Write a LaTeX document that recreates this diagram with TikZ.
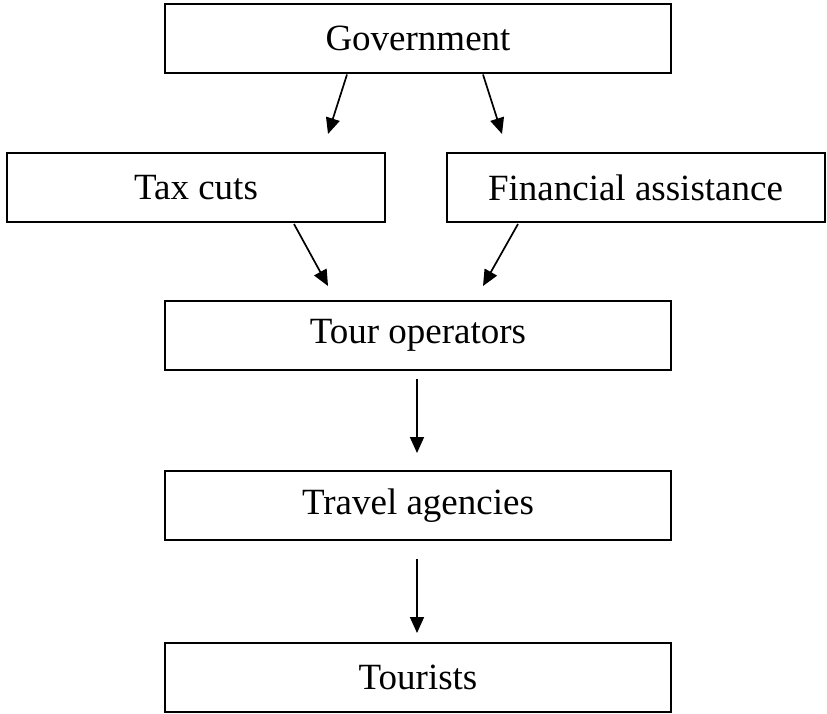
\documentclass[tikz,border=0pt]{standalone}
\usepackage{fontspec}
\setmainfont{Liberation Serif}
\usetikzlibrary{arrows.meta,positioning}

\begin{document}
\begin{tikzpicture}[x=1pt,y=-1pt,
  box/.style={draw=black,line width=2pt,rectangle,inner sep=0pt,
    font=\fontsize{37}{44}\selectfont,minimum height=69pt},
  wide/.style={box,minimum width=506pt},
  half/.style={box,minimum width=378pt},
  link/.style={line width=1.7pt,-{Triangle[length=16pt,width=14pt]}}]
\useasboundingbox (0,0) rectangle (827,713);
% boxes
\node [wide] (gov) at (418,38) {Government};
\node [half] (tax) at (196,187.5) {Tax cuts};
\node [half] (fin) at (635.5,187.5) {Financial assistance};
\node [wide] (tour) at (418,335.5) {Tour operators};
\node [wide] (travel) at (418,505.5) {Travel agencies};
\node [wide] (tourists) at (418,677.5) {Tourists};
% arrows
\draw [link] ([xshift=-71pt,yshift=-1pt]gov.south) -- ([xshift=132pt,yshift=18pt]tax.north);
\draw [link] ([xshift=65pt,yshift=-1pt]gov.south) -- ([xshift=-133.5pt,yshift=18pt]fin.north);
\draw [link] ([xshift=98pt,yshift=-1pt]tax.south) -- ([xshift=-90pt,yshift=14pt]tour.north);
\draw [link] ([xshift=-117.5pt,yshift=-1pt]fin.south) -- ([xshift=65pt,yshift=14pt]tour.north);
\draw [link] ([xshift=-1pt,yshift=-8pt]tour.south) -- ([xshift=-1pt,yshift=17pt]travel.north);
\draw [link] ([xshift=-1pt,yshift=-18pt]travel.south) -- ([xshift=-1pt,yshift=9pt]tourists.north);
\end{tikzpicture}
\end{document}
